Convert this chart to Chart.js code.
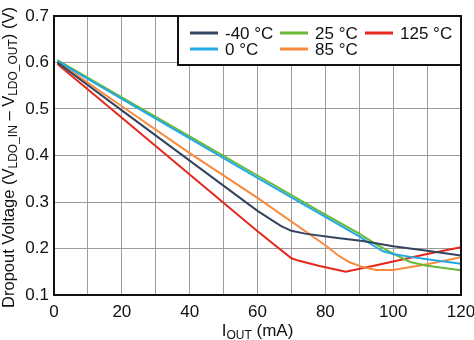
<!DOCTYPE html>
<html>
<head>
<meta charset="utf-8">
<script src="https://cdn.jsdelivr.net/npm/chart.js@4/dist/chart.umd.min.js"></script>
<style>
  html, body { margin: 0; padding: 0; background: #fff; }
  #wrap { width: 474px; height: 340px; }
</style>
</head>
<body>
<div id="wrap"><canvas id="chart" width="474" height="340"></canvas></div>
<script>
// Dropout voltage vs. output current, one curve per temperature
const tempLabels = ["-40 °C", "0 °C", "25 °C", "85 °C", "125 °C"];
const tempColors = ["#34445f", "#22a9e6", "#68b935", "#f78a3c", "#e5281c"];

const currentM40 = [1, 20, 40, 60, 64, 67, 70, 74, 83, 91, 100, 110, 120];
const dropoutM40 = [0.600, 0.497, 0.389, 0.281, 0.262, 0.248, 0.238, 0.232, 0.223, 0.216, 0.205, 0.195, 0.185];

const current0 = [1, 20, 40, 60, 80, 90, 94, 97, 100, 105, 110, 120];
const dropout0 = [0.603, 0.522, 0.437, 0.352, 0.268, 0.226, 0.207, 0.194, 0.188, 0.182, 0.177, 0.167];

const current25 = [1, 20, 40, 60, 80, 90, 95, 100, 105, 110, 120];
const dropout25 = [0.605, 0.525, 0.441, 0.357, 0.273, 0.232, 0.209, 0.189, 0.171, 0.163, 0.153];

const current85 = [1, 20, 40, 60, 80, 84, 87, 91, 95, 100, 110, 120];
const dropout85 = [0.602, 0.506, 0.405, 0.309, 0.207, 0.184, 0.171, 0.160, 0.154, 0.154, 0.166, 0.181];

const current125 = [1, 20, 40, 60, 70, 72, 78, 86, 95, 100, 110, 120];
const dropout125 = [0.597, 0.481, 0.359, 0.237, 0.179, 0.174, 0.163, 0.150, 0.164, 0.172, 0.188, 0.203];

const xTicks = [0, 20, 40, 60, 80, 100, 120];
const yTicks = [0.1, 0.2, 0.3, 0.4, 0.5, 0.6, 0.7];

const FONT = "'Liberation Sans', Arial, sans-serif";

function pairs(xs, ys) {
  return xs.map((x, i) => ({ x: x, y: ys[i] }));
}

const seriesX = [currentM40, current0, current25, current85, current125];
const seriesY = [dropoutM40, dropout0, dropout25, dropout85, dropout125];

const datasets = tempLabels.map((label, i) => ({
  label: label,
  data: pairs(seriesX[i], seriesY[i]),
  borderColor: tempColors[i],
  backgroundColor: tempColors[i],
  borderWidth: 2,
  pointRadius: 0,
  tension: 0,
  fill: false,
}));

// text with subscript pieces, centred on (cx, cy)
function drawRich(ctx, parts, cx, cy, size) {
  const subSize = Math.round(size * 0.7);
  let total = 0;
  parts.forEach((p) => {
    ctx.font = (p.sub ? subSize : size) + "px " + FONT;
    p.w = ctx.measureText(p.t).width;
    total += p.w;
  });
  let x = cx - total / 2;
  ctx.textAlign = "left";
  ctx.textBaseline = "middle";
  parts.forEach((p) => {
    ctx.font = (p.sub ? subSize : size) + "px " + FONT;
    ctx.fillText(p.t, x, cy + (p.sub ? size * 0.28 : 0));
    x += p.w;
  });
}

const frame = {
  id: "frame",
  afterDatasetsDraw(chart) {
    const { ctx, chartArea: a } = chart;
    ctx.save();
    ctx.strokeStyle = "#111";
    ctx.lineWidth = 2;
    ctx.strokeRect(a.left, a.top, a.right - a.left, a.bottom - a.top);

    // axis titles
    ctx.fillStyle = "#111";
    drawRich(ctx, [{ t: "I" }, { t: "OUT", sub: true }, { t: " (mA)" }],
      (a.left + a.right) / 2, 331, 17);

    ctx.translate(9, (a.top + a.bottom) / 2 + 2);
    ctx.rotate(-Math.PI / 2);
    drawRich(ctx, [
      { t: "Dropout Voltage (V" }, { t: "LDO_IN", sub: true },
      { t: " \u2013 V" }, { t: "LDO_OUT", sub: true }, { t: ") (V)" },
    ], 0, 0, 16.5);
    ctx.restore();
  },
};

// boxed legend, two rows filled column by column
const legendCols = [190, 280, 365];
const legendRows = [33, 49];
const boxLegend = {
  id: "boxLegend",
  afterDraw(chart) {
    const { ctx, chartArea: a } = chart;
    ctx.save();
    const left = 178, top = a.top, right = a.right, bottom = 65;
    ctx.fillStyle = "#fff";
    ctx.fillRect(left, top, right - left, bottom - top);
    ctx.strokeStyle = "#111";
    ctx.lineWidth = 2;
    ctx.strokeRect(left, top, right - left, bottom - top);
    ctx.font = "17px " + FONT;
    ctx.textAlign = "left";
    ctx.textBaseline = "middle";
    chart.data.datasets.forEach((ds, i) => {
      const x = legendCols[Math.floor(i / 2)];
      const y = legendRows[i % 2];
      ctx.strokeStyle = ds.borderColor;
      ctx.lineWidth = 3;
      ctx.beginPath();
      ctx.moveTo(x, y);
      ctx.lineTo(x + 28, y);
      ctx.stroke();
      ctx.fillStyle = "#111";
      ctx.fillText(ds.label, x + 35, y + 1);
    });
    ctx.restore();
  },
};

new Chart(document.getElementById("chart").getContext("2d"), {
  type: "line",
  data: { datasets: datasets },
  options: {
    responsive: false,
    animation: false,
    layout: { padding: { left: 0, top: 16, right: 13, bottom: 0 } },
    plugins: {
      legend: { display: false },
      tooltip: { enabled: false },
      title: { display: false },
    },
    scales: {
      x: {
        type: "linear",
        min: 0,
        max: 120,
        afterFit: (s) => {
          s.height = 45;
          s.paddingLeft = 0;
          s.paddingRight = 0;
        },
        afterBuildTicks: (s) => {
          s.ticks = [];
          for (let v = 0; v <= 120; v += 10) s.ticks.push({ value: v });
        },
        ticks: {
          color: "#111",
          padding: 7,
          maxRotation: 0,
          autoSkip: false,
          font: { family: FONT, size: 17 },
          callback: (v) => (xTicks.includes(v) ? String(v) : ""),
        },
        grid: { color: "#9c9c9c", lineWidth: 1, drawTicks: false },
        border: { display: false },
      },
      y: {
        type: "linear",
        min: 0.1,
        max: 0.7,
        afterFit: (s) => {
          s.width = 54;
          s.paddingTop = 0;
          s.paddingBottom = 0;
        },
        afterBuildTicks: (s) => {
          s.ticks = yTicks.map((v) => ({ value: v }));
        },
        ticks: {
          color: "#111",
          padding: 5,
          font: { family: FONT, size: 17 },
          callback: (v) => Number(v).toFixed(1),
        },
        grid: { color: "#9c9c9c", lineWidth: 1, drawTicks: false },
        border: { display: false },
      },
    },
  },
  plugins: [frame, boxLegend],
});
</script>
</body>
</html>
